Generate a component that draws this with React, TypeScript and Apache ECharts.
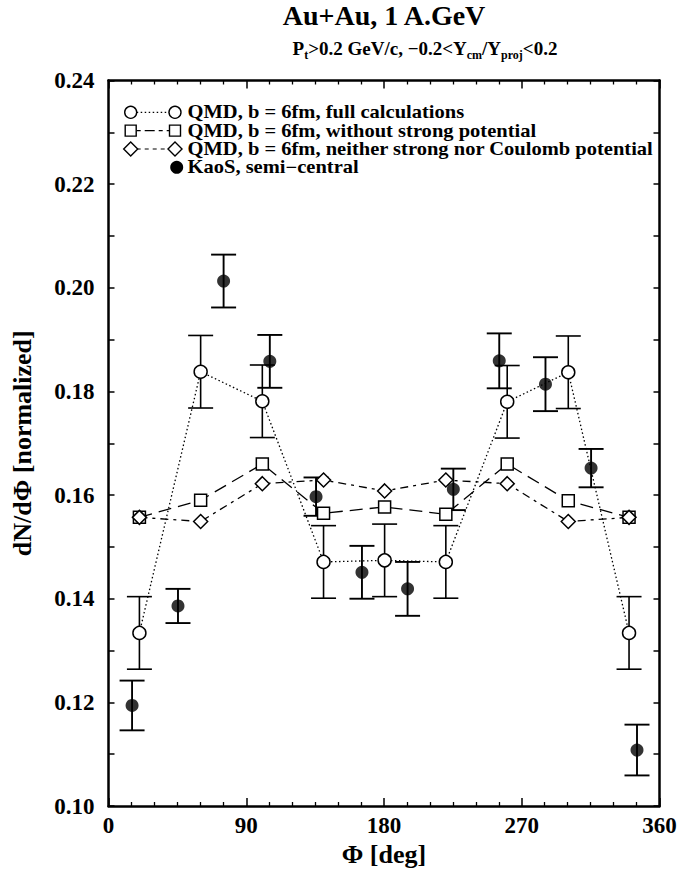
import React, { useEffect, useRef } from "react";
import * as echarts from "echarts";

const FONT = '"Liberation Serif", "DejaVu Serif", serif';

// Model (QMD) azimuthal angles, deg
const modelPhi = [20.2, 60.2, 100.5, 140.5, 180.4, 220.4, 260.5, 300.4, 340.1];
const fullCalc = [0.1334, 0.1838, 0.1781, 0.1471, 0.1474, 0.1471, 0.178, 0.1837, 0.1334];
const fullCalcErr = [0.007, 0.007, 0.007, 0.007, 0.007, 0.007, 0.007, 0.007, 0.007];
const noStrong = [0.1557, 0.159, 0.166, 0.1565, 0.1577, 0.1563, 0.166, 0.1589, 0.1557];
const noStrongNoCoulomb = [0.1557, 0.1549, 0.1622, 0.1629, 0.1608, 0.1629, 0.1622, 0.1549, 0.1557];

// KaoS data
const kaosPhi = [15.4, 45.4, 75.2, 105.4, 135.6, 165.6, 195.4, 225.3, 255.3, 285.5, 315.3, 345.3];
const kaos = [0.1194, 0.1386, 0.2013, 0.1858, 0.1597, 0.1451, 0.1419, 0.1611, 0.1859, 0.1814, 0.1652, 0.1108];
const kaosErr = [0.0048, 0.0033, 0.0051, 0.0051, 0.0037, 0.0051, 0.0052, 0.004, 0.0053, 0.0052, 0.0037, 0.0049];

const seriesNames = [
  "QMD, b = 6fm, full calculations",
  "QMD, b = 6fm, without strong potential",
  "QMD, b = 6fm, neither strong nor Coulomb potential",
  "KaoS, semi\u2212central",
];

const xRange = [0, 360];
const xStep = 90;
const yRange = [0.1, 0.24];
const yStep = 0.02;

const title = "Au+Au, 1 A.GeV";
const subtitleRich = "{m|P}{s|t}{m|>0.2 GeV/c, \u22120.2<Y}{s|cm}{m|/Y}{s|proj}{m|<0.2}";
const xName = "\u03a6 [deg]";
const yName = "dN/d\u03a6 [normalized]";

const DASH_FULL = [1.5, 2.5];
const DASH_NOSTRONG = [13, 7];
const DASH_NEITHER = [8, 5, 3, 5];

function errRender(hw: number, lw: number) {
  return (params: any, api: any) => {
    const x = api.value(0);
    const y = api.value(1);
    const e = api.value(2);
    const top = api.coord([x, y + e]);
    const bot = api.coord([x, y - e]);
    const st = { stroke: "#000", lineWidth: lw };
    return {
      type: "group",
      children: [
        { type: "line", shape: { x1: top[0], y1: top[1], x2: bot[0], y2: bot[1] }, style: st },
        { type: "line", shape: { x1: top[0] - hw, y1: top[1], x2: top[0] + hw, y2: top[1] }, style: st },
        { type: "line", shape: { x1: bot[0] - hw, y1: bot[1], x2: bot[0] + hw, y2: bot[1] }, style: st },
      ],
    };
  };
}

function buildLegend() {
  const els: any[] = [];
  const y0 = 112.3;
  const dy = 18.35;
  const xl = 130.7;
  const xr = 175;
  const dashes = [DASH_FULL, [4, 4, 10, 4], [4, 4]];
  for (let i = 0; i < 4; i++) {
    const cy = y0 + i * dy;
    if (i < 3) {
      els.push({
        type: "line",
        shape: { x1: xl + 6, y1: cy, x2: xr - 6, y2: cy },
        style: { stroke: "#000", lineWidth: 1.2, lineDash: dashes[i] },
      });
      [xl, xr].forEach((cx) => {
        if (i === 0) {
          els.push({ type: "circle", shape: { cx, cy, r: 6 }, style: { fill: "#fff", stroke: "#000", lineWidth: 1.4 } });
        } else if (i === 1) {
          els.push({ type: "rect", shape: { x: cx - 5.5, y: cy - 5.5, width: 11, height: 11 }, style: { fill: "#fff", stroke: "#000", lineWidth: 1.4 } });
        } else {
          els.push({
            type: "polygon",
            shape: { points: [[cx, cy - 7], [cx + 7, cy], [cx, cy + 7], [cx - 7, cy]] },
            style: { fill: "#fff", stroke: "#000", lineWidth: 1.4 },
          });
        }
      });
    } else {
      els.push({ type: "circle", shape: { cx: 176.7, cy, r: 6.5 }, style: { fill: "#000" } });
    }
    els.push({
      type: "text",
      x: 187.5,
      y: cy,
      scaleX: 1.14,
      style: {
        text: seriesNames[i],
        fontSize: 18,
        fontWeight: "bold",
        fontFamily: FONT,
        fill: "#000",
        align: "left",
        verticalAlign: "middle",
      },
    });
  }
  return els;
}

function axisBase(extra: any) {
  return {
    type: "value",
    splitLine: { show: false },
    minorSplitLine: { show: false },
    axisLine: { show: true, onZero: false, lineStyle: { color: "#000", width: 2.5 } },
    ...extra,
  };
}

export default function App() {
  const ref = useRef<HTMLDivElement>(null);
  useEffect(() => {
    const chart = echarts.init(ref.current!, null, { renderer: "svg" });
    const labelStyle = { color: "#000", fontSize: 23, fontWeight: "bold", fontFamily: FONT };
    const nameStyle = { color: "#000", fontSize: 26, fontWeight: "bold", fontFamily: FONT };
    const xTick = { show: true, inside: true, length: 8, lineStyle: { color: "#000", width: 1.5 } };
    const xMinor = { show: true, splitNumber: 6, length: 4, lineStyle: { color: "#000", width: 1.3 } };
    const yTick = { show: true, inside: true, length: 6, lineStyle: { color: "#000", width: 1.5 } };
    const yMinor = { show: true, splitNumber: 2, length: 6, lineStyle: { color: "#000", width: 1.5 } };

    const option: any = {
      animation: false,
      backgroundColor: "#fff",
      grid: { left: 108.5, right: 17.5, top: 80.5, bottom: 71, containLabel: false, outerBoundsMode: "none" },
      xAxis: [
        axisBase({
          position: "bottom",
          min: xRange[0],
          max: xRange[1],
          interval: xStep,
          axisTick: xTick,
          minorTick: xMinor,
          axisLabel: { ...labelStyle, margin: 8 },
          name: xName,
          nameLocation: "middle",
          nameGap: 30,
          nameTextStyle: nameStyle,
        }),
        axisBase({
          position: "top",
          min: xRange[0],
          max: xRange[1],
          interval: xStep,
          axisTick: xTick,
          minorTick: xMinor,
          axisLabel: { show: false },
        }),
      ],
      yAxis: [
        axisBase({
          position: "left",
          min: yRange[0],
          max: yRange[1],
          interval: yStep,
          axisTick: yTick,
          minorTick: yMinor,
          axisLabel: { ...labelStyle, margin: 14, formatter: (v: number) => v.toFixed(2) },
          name: yName,
          nameLocation: "middle",
          nameGap: 73,
          nameRotate: 90,
          nameTextStyle: nameStyle,
        }),
        axisBase({
          position: "right",
          min: yRange[0],
          max: yRange[1],
          interval: yStep,
          axisTick: yTick,
          minorTick: yMinor,
          axisLabel: { show: false },
        }),
      ],
      series: [
        {
          type: "custom",
          name: "fullErr",
          xAxisIndex: 0,
          yAxisIndex: 0,
          z: 2,
          silent: true,
          encode: { x: 0, y: 1 },
          data: modelPhi.map((x, i) => [x, fullCalc[i], fullCalcErr[i]]),
          renderItem: errRender(12.5, 1.6),
        },
        {
          type: "custom",
          name: "kaosErr",
          xAxisIndex: 0,
          yAxisIndex: 0,
          z: 2,
          silent: true,
          encode: { x: 0, y: 1 },
          data: kaosPhi.map((x, i) => [x, kaos[i], kaosErr[i]]),
          renderItem: errRender(12.5, 1.9),
        },
        {
          type: "line",
          name: seriesNames[1],
          z: 3,
          silent: true,
          data: modelPhi.map((x, i) => [x, noStrong[i]]),
          symbol: "rect",
          symbolSize: 12,
          lineStyle: { color: "#000", width: 1.3, type: DASH_NOSTRONG },
          itemStyle: { color: "#fff", borderColor: "#000", borderWidth: 1.5 },
        },
        {
          type: "line",
          name: seriesNames[2],
          z: 3,
          silent: true,
          data: modelPhi.map((x, i) => [x, noStrongNoCoulomb[i]]),
          symbol: "diamond",
          symbolSize: 14,
          lineStyle: { color: "#000", width: 1.3, type: DASH_NEITHER },
          itemStyle: { color: "#fff", borderColor: "#000", borderWidth: 1.5 },
        },
        {
          type: "line",
          name: seriesNames[0],
          z: 4,
          silent: true,
          data: modelPhi.map((x, i) => [x, fullCalc[i]]),
          symbol: "circle",
          symbolSize: 13,
          lineStyle: { color: "#000", width: 1.3, type: DASH_FULL },
          itemStyle: { color: "#fff", borderColor: "#000", borderWidth: 1.5 },
        },
        {
          type: "scatter",
          name: seriesNames[3],
          z: 5,
          silent: true,
          data: kaosPhi.map((x, i) => [x, kaos[i]]),
          symbol: "circle",
          symbolSize: 13,
          itemStyle: { color: "#000" },
        },
      ],
      graphic: [
        {
          type: "text",
          x: 384,
          y: 15,
          style: {
            text: title,
            fontSize: 28,
            fontWeight: "bold",
            fontFamily: FONT,
            fill: "#000",
            align: "center",
            verticalAlign: "middle",
          },
        },
        {
          type: "text",
          x: 425,
          y: 48.5,
          style: {
            text: subtitleRich,
            fill: "#000",
            align: "center",
            verticalAlign: "middle",
            rich: {
              m: { fontSize: 19, fontWeight: "bold", fontFamily: FONT, fill: "#000", lineHeight: 24, verticalAlign: "middle" },
              s: { fontSize: 12, fontWeight: "bold", fontFamily: FONT, fill: "#000", lineHeight: 12, verticalAlign: "bottom" },
            },
          },
        },
        ...buildLegend(),
      ],
    };
    chart.setOption(option);
    return () => chart.dispose();
  }, []);
  return (
    <div
      ref={ref}
      style={{ position: "fixed", left: 0, top: 0, width: 677, height: 877, background: "#fff" }}
    />
  );
}
